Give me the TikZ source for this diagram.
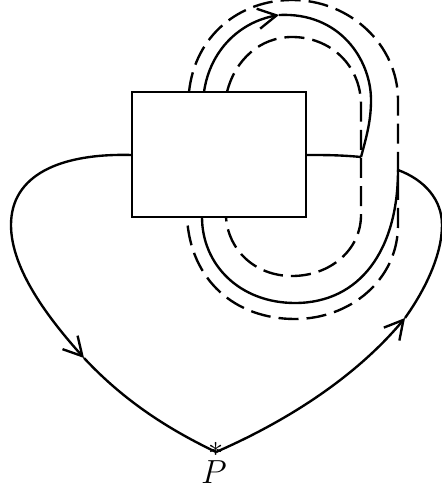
\documentclass[tikz,border=0pt]{standalone}
\usepackage{amsmath,amssymb}
\usetikzlibrary{arrows.meta,positioning}
\tikzset{
  strand/.style={line width=1.35pt},
  guide/.style={line width=1.35pt,dash pattern=on 11.4pt off 4.6pt},
  barb/.style={-{Straight Barb[length=10.5pt,width=11.5pt,line width=1.35pt]}},
  blackbox/.style={draw,line width=1.35pt,minimum width=3.48cm,minimum height=2.5cm,inner sep=0pt},
}
\begin{document}
\begin{tikzpicture}[x=0.02cm,y=-0.02cm]
\useasboundingbox (0,0) rectangle (442,493);
\node[blackbox] (box) at (219,154.5) {};
\node[inner sep=0pt,font=\LARGE] (star) at (216.5,449) {$*$};
\node[inner sep=0pt,font=\LARGE,scale=1.1] (base) at (214,472.5) {$P$};
\coordinate (cusp) at (361,157);
\coordinate (tip) at (398,170);
\coordinate (boxa) at (132,155);
\coordinate (boxb) at (306,155);
\coordinate (topin) at (204,92);
\coordinate (botin) at (202,217);
\coordinate (basept) at (216,452);
\coordinate (arrl) at (84,358);
\coordinate (arrr) at (405,318);
\coordinate (arrt) at (279,15);
% long strand, left side
\draw[strand,barb] (boxa) .. controls (60,153) and (11,175) .. (11,225)
  .. controls (11,270) and (50,320) .. (arrl);
\draw[strand] (arrl) .. controls (125,402) and (170,430) .. (basept);
% right side
\draw[strand,barb] (basept) .. controls (285,422) and (355,378) .. (arrr);
\draw[strand] (arrr) .. controls (425,290) and (442,255) .. (442,225)
  .. controls (442,200) and (425,180) .. (tip);
% around the box
\draw[strand] (tip) .. controls (398,250) and (360,303) .. (295,303)
  .. controls (240,303) and (202,265) .. (botin);
\draw[strand,barb] (topin) .. controls (210,50) and (240,22) .. (arrt);
\draw[strand] (arrt) .. controls (340,12) and (371,60) .. (371,100)
  .. controls (371,120) and (367,135) .. (cusp);
\draw[strand] (cusp) .. controls (340,155) and (325,155) .. (boxb);
% dashed pair
\draw[guide] (189,92) .. controls (195,35) and (240,0) .. (292,0)
  .. controls (350,0) and (398,45) .. (398,100) -- (398,225)
  .. controls (398,280) and (350,319) .. (295,319)
  .. controls (235,319) and (190,280) .. (187,217);
\draw[guide] (227,92) .. controls (235,60) and (260,37) .. (292,37)
  .. controls (330,37) and (361,65) .. (361,105) -- (361,215)
  .. controls (361,250) and (330,276) .. (292,276)
  .. controls (255,276) and (228,250) .. (226,217);
\end{tikzpicture}
\end{document}
